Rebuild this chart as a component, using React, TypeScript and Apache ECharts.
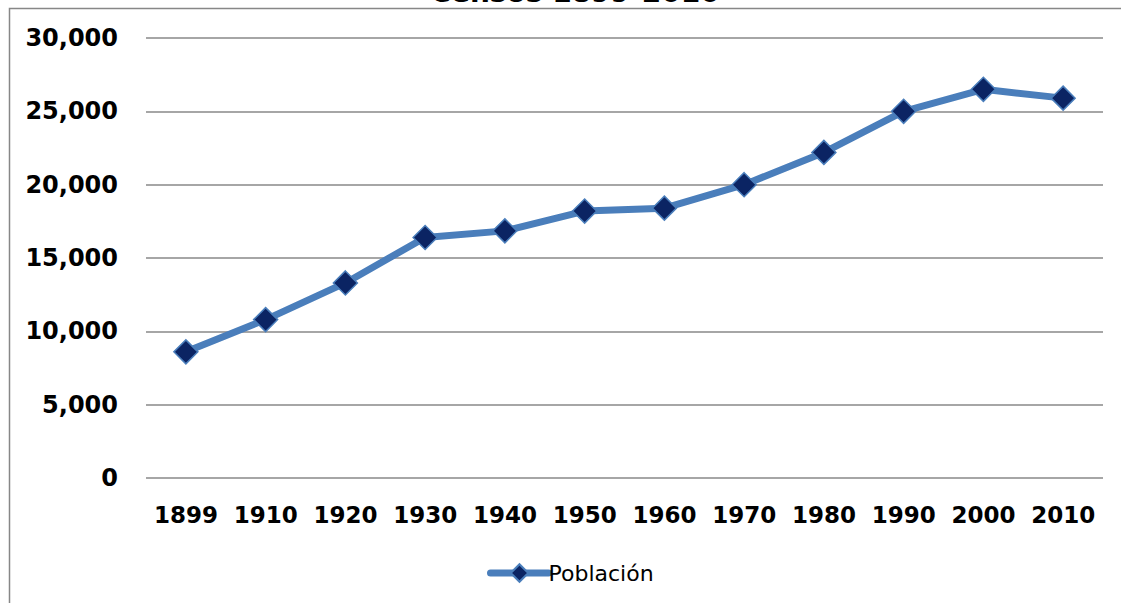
import React, { useEffect, useRef } from "react";
import * as echarts from "echarts";

const titleText = "Censos 1899-2010";
const seriesName = "Población";
const years = ["1899", "1910", "1920", "1930", "1940", "1950", "1960", "1970", "1980", "1990", "2000", "2010"];
const population = [8600, 10800, 13300, 16400, 16850, 18200, 18400, 20000, 22200, 25000, 26500, 25900];
const yMin = 0;
const yMax = 30000;
const yInterval = 5000;

export default function App() {
  const ref = useRef<HTMLDivElement>(null);
  useEffect(() => {
    if (!ref.current) return;
    const chart = echarts.init(ref.current, null, { renderer: "svg" });
    chart.setOption({
      animation: false,
      backgroundColor: "#ffffff",
      textStyle: { fontFamily: "DejaVu Sans" },
      graphic: [
        {
          type: "rect",
          shape: { x: 9.5, y: 8.5, width: 1300, height: 800 },
          style: { fill: "none", stroke: "#878787", lineWidth: 1.5 },
          silent: true,
        },
        {
          type: "text",
          x: 575,
          y: -8,
          style: {
            text: titleText,
            fontFamily: "DejaVu Sans",
            fontWeight: "bold",
            fontSize: 28,
            fill: "#000000",
            align: "center",
            verticalAlign: "middle",
          },
        },
      ],
      grid: { left: 146, right: 18, top: 38, bottom: 125, containLabel: false },
      xAxis: {
        type: "category",
        data: years,
        boundaryGap: true,
        axisLine: { show: false },
        axisTick: { show: false },
        axisLabel: {
          interval: 0,
          hideOverlap: false,
          margin: 25,
          color: "#000000",
          fontFamily: "DejaVu Sans",
          fontWeight: "bold",
          fontSize: 23,
        },
        splitLine: { show: false },
      },
      yAxis: {
        type: "value",
        min: yMin,
        max: yMax,
        interval: yInterval,
        axisLine: { show: false },
        axisTick: { show: false },
        axisLabel: {
          margin: 28,
          color: "#000000",
          fontFamily: "DejaVu Sans",
          fontWeight: "bold",
          fontSize: 24,
          formatter: (v: number) => v.toLocaleString("en-US"),
        },
        splitLine: { show: true, lineStyle: { color: "#888888", width: 1.5 } },
      },
      legend: {
        show: true,
        left: 482,
        top: 557,
        itemWidth: 58,
        itemHeight: 22,
        itemGap: 10,
        lineStyle: { width: 7, cap: "round" },
        textStyle: { color: "#000000", fontFamily: "DejaVu Sans", fontSize: 22, padding: [0, 0, 0, -5] },
        data: [{ name: seriesName }],
      },
      series: [
        {
          name: seriesName,
          type: "line",
          data: population,
          symbol: "diamond",
          symbolSize: 24,
          lineStyle: { color: "#4a7ebb", width: 7 },
          itemStyle: { color: "#0b2463", borderColor: "#4a7ebb", borderWidth: 1.5 },
        },
      ],
    });
    return () => chart.dispose();
  }, []);
  return <div ref={ref} style={{ position: "fixed", left: 0, top: 0, width: 1121, height: 603 }} />;
}
